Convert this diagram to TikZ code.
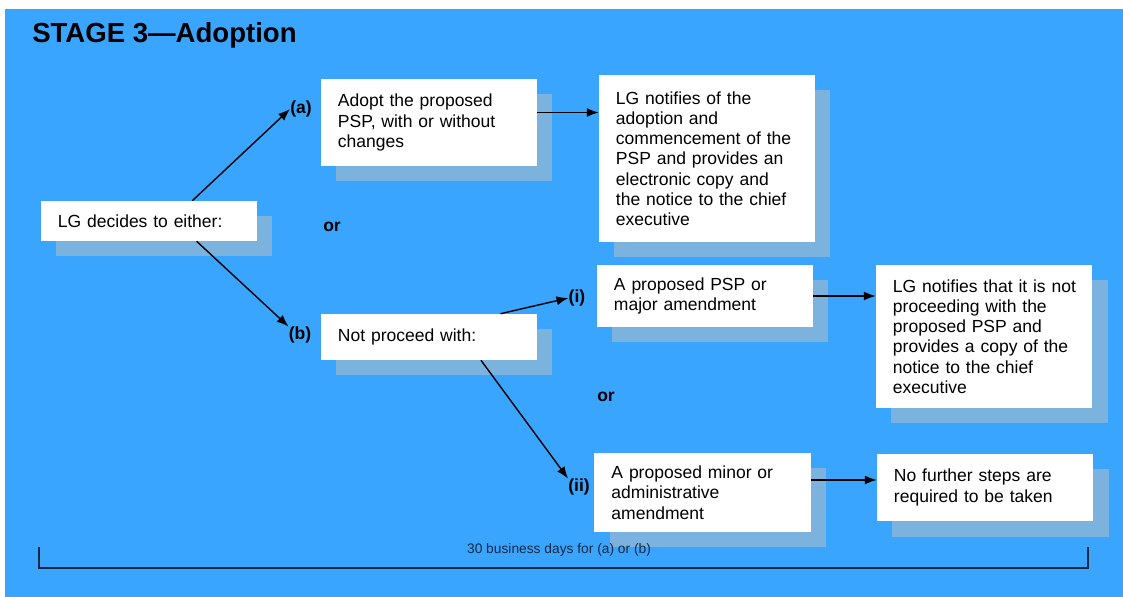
\documentclass[tikz,border=0pt]{standalone}
\usepackage{fontspec}
\setmainfont{Liberation Sans}
\usetikzlibrary{calc,shadows,arrows.meta}
\definecolor{stageblue}{RGB}{58,165,255}
\definecolor{shadeblue}{RGB}{124,178,222}
\definecolor{spanline}{RGB}{22,40,66}
\def\px{0.025cm}
\tikzset{
	stepbox/.style={fill=white, align=left, inner xsep=12.09pt, inner ysep=2pt, text width=129.45pt,
		font=\fontsize{12.45}{14.4}\selectfont,
		drop shadow={shadow xshift=11pt, shadow yshift=-11pt, fill=shadeblue, opacity=1}},
	choice/.style={font=\fontsize{12.45}{14.4}\selectfont\bfseries, inner sep=0pt},
	flow/.style={-{Latex[length=8.5pt,width=6.5pt]}, line width=1pt}
}

\begin{document}
\begin{tikzpicture}[x=\px, y=-\px]
			%%%%% START %%%%%
			
			\useasboundingbox (0,0) rectangle (1123,597);
			\fill[stageblue] (5,9) rectangle (1123,597);
			
			\node[anchor=base west, inner sep=0pt, font=\fontsize{19.6}{22}\selectfont\bfseries] (title) at (32,43) {STAGE 3—Adoption};
			
			\node[stepbox, minimum height=28.45pt] (lg) at (149,221) {LG decides to either:};
			\node[stepbox, minimum height=61.9pt] (adopt) at (429,122.5) {Adopt the proposed\\PSP, with or without\\changes};
			\node[stepbox, minimum height=118.8pt] (notify) at (707,158.5) {LG notifies of the\\adoption and\\commencement of the\\PSP and provides an\\electronic copy and\\the notice to the chief\\executive};
			\node[stepbox, minimum height=32.7pt] (notproc) at (429,337) {Not proceed with:};
			\node[stepbox, minimum height=44.1pt] (major) at (705,296) {A proposed PSP or\\major amendment};
			\node[stepbox, minimum height=101.7pt] (stopnote) at (984,336.5) {\mbox{LG notifies that it is not}\\proceeding with the\\proposed PSP and\\provides a copy of the\\notice to the chief\\executive};
			\node[stepbox, minimum height=56.2pt] (minor) at (702.5,492.5) {A proposed minor or\\administrative\\amendment};
			\node[stepbox, minimum height=47.7pt] (nofurther) at (985,487.5) {No further steps are\\required to be taken};
			
			\node[choice] (a) at (301,109) {(a)};
			\node[choice] (b) at (300,335) {(b)};
			\node[choice] (i) at (577,298) {(i)};
			\node[choice] (ii) at (579,487) {(ii)};
			\node[choice] (or1) at (332,227) {or};
			\node[choice] (or2) at (606,397) {or};
			
			\draw[flow] ($(lg.north west)!0.70!(lg.north east)$) -- (a.west);
			\draw[flow] ($(lg.south west)!0.72!(lg.south east)$) -- (b.north west);
			\draw[flow] ($(notproc.north west)!0.83!(notproc.north east)$) -- (i.west);
			\draw[flow] ($(notproc.south west)!0.74!(notproc.south east)$) -- (ii.north west);
			
			\draw[flow] ([yshift=7.1pt]adopt.east) -- ([yshift=7.1pt]adopt.east -| notify.west);
			\draw[flow] (major.east) -- (major.east -| stopnote.west);
			\draw[flow] ([yshift=8.9pt]minor.east) -- ([yshift=8.9pt]minor.east -| nofurther.west);
			
			\draw[spanline, line width=0.9pt] (39,547) -- (39,568) -- (1088,568) -- (1088,547);
			\node[font=\fontsize{9.8}{11}\selectfont, text=spanline] (days) at (559,550) {30 business days for (a) or (b)};
			
			%%%%% END %%%%%
\end{tikzpicture}
\end{document}
